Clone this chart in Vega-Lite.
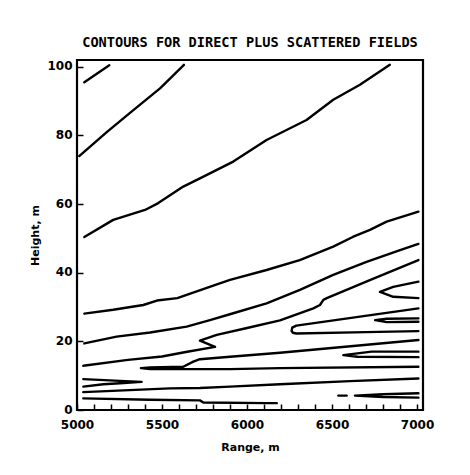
{
  "$schema": "https://vega.github.io/schema/vega-lite/v6.json",
  "width": 346,
  "height": 350,
  "autosize": {"type": "none"},
  "padding": {"left": 77, "top": 60, "right": 47, "bottom": 65},
  "background": "white",
  "title": {
    "text": "CONTOURS FOR DIRECT PLUS SCATTERED FIELDS",
    "font": "DejaVu Sans Mono",
    "fontSize": 13.6,
    "fontWeight": "bold",
    "color": "black",
    "anchor": "middle",
    "offset": 10
  },
  "config": {
    "view": {"stroke": "black", "strokeWidth": 2.2},
    "axis": {
      "labelFont": "DejaVu Sans",
      "labelFontWeight": "bold",
      "labelFontSize": 12,
      "labelColor": "black",
      "titleFont": "DejaVu Sans",
      "titleFontWeight": "bold",
      "titleFontSize": 11,
      "titleColor": "black",
      "grid": false,
      "tickColor": "black",
      "domainColor": "black"
    }
  },
  "data": {
    "values": [
      {"id": "A", "o": 1, "x": 5043, "y": 95.5},
      {"id": "A", "o": 2, "x": 5190, "y": 100.5},
      {"id": "B", "o": 1, "x": 5013, "y": 74},
      {"id": "B", "o": 2, "x": 5175, "y": 81},
      {"id": "B", "o": 3, "x": 5310, "y": 86.5},
      {"id": "B", "o": 4, "x": 5490, "y": 93.8},
      {"id": "B", "o": 5, "x": 5629, "y": 100.6},
      {"id": "C", "o": 1, "x": 5043, "y": 50.4},
      {"id": "C", "o": 2, "x": 5213, "y": 55.4},
      {"id": "C", "o": 3, "x": 5400, "y": 58.3},
      {"id": "C", "o": 4, "x": 5478, "y": 60.3},
      {"id": "C", "o": 5, "x": 5625, "y": 65.1},
      {"id": "C", "o": 6, "x": 5723, "y": 67.5},
      {"id": "C", "o": 7, "x": 5919, "y": 72.4},
      {"id": "C", "o": 8, "x": 6115, "y": 78.7},
      {"id": "C", "o": 9, "x": 6350, "y": 84.5},
      {"id": "C", "o": 10, "x": 6507, "y": 90.4},
      {"id": "C", "o": 11, "x": 6664, "y": 94.8},
      {"id": "C", "o": 12, "x": 6840, "y": 100.6},
      {"id": "D", "o": 1, "x": 5043, "y": 28.1},
      {"id": "D", "o": 2, "x": 5213, "y": 29.2},
      {"id": "D", "o": 3, "x": 5390, "y": 30.6},
      {"id": "D", "o": 4, "x": 5470, "y": 31.9},
      {"id": "D", "o": 5, "x": 5590, "y": 32.6},
      {"id": "D", "o": 6, "x": 5700, "y": 34.5},
      {"id": "D", "o": 7, "x": 5810, "y": 36.4},
      {"id": "D", "o": 8, "x": 5900, "y": 37.9},
      {"id": "D", "o": 9, "x": 6115, "y": 40.8},
      {"id": "D", "o": 10, "x": 6310, "y": 43.7},
      {"id": "D", "o": 11, "x": 6507, "y": 47.6},
      {"id": "D", "o": 12, "x": 6625, "y": 50.5},
      {"id": "D", "o": 13, "x": 6723, "y": 52.5},
      {"id": "D", "o": 14, "x": 6821, "y": 54.9},
      {"id": "D", "o": 15, "x": 7008, "y": 57.8},
      {"id": "E", "o": 1, "x": 5043, "y": 19.4},
      {"id": "E", "o": 2, "x": 5233, "y": 21.4},
      {"id": "E", "o": 3, "x": 5430, "y": 22.6},
      {"id": "E", "o": 4, "x": 5645, "y": 24.3},
      {"id": "E", "o": 5, "x": 5782, "y": 26.2},
      {"id": "E", "o": 6, "x": 5919, "y": 28.2},
      {"id": "E", "o": 7, "x": 6115, "y": 31.1},
      {"id": "E", "o": 8, "x": 6311, "y": 35.0},
      {"id": "E", "o": 9, "x": 6507, "y": 39.4},
      {"id": "E", "o": 10, "x": 6703, "y": 43.2},
      {"id": "E", "o": 11, "x": 6900, "y": 46.6},
      {"id": "E", "o": 12, "x": 7008, "y": 48.4},
      {"id": "F", "o": 1, "x": 5037, "y": 12.9},
      {"id": "F", "o": 2, "x": 5300, "y": 14.6},
      {"id": "F", "o": 3, "x": 5500, "y": 15.6},
      {"id": "F", "o": 4, "x": 5640, "y": 16.9},
      {"id": "F", "o": 5, "x": 5812, "y": 18.4},
      {"id": "F", "o": 6, "x": 5723, "y": 20.2},
      {"id": "F", "o": 7, "x": 5822, "y": 21.9},
      {"id": "F", "o": 8, "x": 6000, "y": 23.9},
      {"id": "F", "o": 9, "x": 6194, "y": 26.1},
      {"id": "F", "o": 10, "x": 6390, "y": 29.6},
      {"id": "F", "o": 11, "x": 6429, "y": 30.6},
      {"id": "F", "o": 12, "x": 6449, "y": 32.1},
      {"id": "F", "o": 13, "x": 6469, "y": 32.6},
      {"id": "F", "o": 14, "x": 6740, "y": 38.2},
      {"id": "F", "o": 15, "x": 7008, "y": 43.7},
      {"id": "L1", "o": 1, "x": 5037, "y": 9.0},
      {"id": "L1", "o": 2, "x": 5253, "y": 8.5},
      {"id": "L1", "o": 3, "x": 5380, "y": 8.2},
      {"id": "L1", "o": 4, "x": 5253, "y": 7.8},
      {"id": "L1", "o": 5, "x": 5155, "y": 7.5},
      {"id": "L1", "o": 6, "x": 5037, "y": 6.8},
      {"id": "L2", "o": 1, "x": 7008, "y": 20.4},
      {"id": "L2", "o": 2, "x": 6194, "y": 16.7},
      {"id": "L2", "o": 3, "x": 5900, "y": 15.5},
      {"id": "L2", "o": 4, "x": 5723, "y": 14.8},
      {"id": "L2", "o": 5, "x": 5684, "y": 14.1},
      {"id": "L2", "o": 6, "x": 5625, "y": 12.6},
      {"id": "L2", "o": 7, "x": 5430, "y": 12.4},
      {"id": "L2", "o": 8, "x": 5376, "y": 12.2},
      {"id": "L2", "o": 9, "x": 5430, "y": 11.9},
      {"id": "L2", "o": 10, "x": 5900, "y": 11.9},
      {"id": "L2", "o": 11, "x": 6194, "y": 12.2},
      {"id": "L2", "o": 12, "x": 7008, "y": 12.6},
      {"id": "G", "o": 1, "x": 5037, "y": 5.2},
      {"id": "G", "o": 2, "x": 5547, "y": 6.3},
      {"id": "G", "o": 3, "x": 5723, "y": 6.4},
      {"id": "G", "o": 4, "x": 5900, "y": 6.8},
      {"id": "G", "o": 5, "x": 6194, "y": 7.5},
      {"id": "G", "o": 6, "x": 6606, "y": 8.4},
      {"id": "G", "o": 7, "x": 7008, "y": 9.2},
      {"id": "H", "o": 1, "x": 5037, "y": 3.4},
      {"id": "H", "o": 2, "x": 5429, "y": 3.0},
      {"id": "H", "o": 3, "x": 5723, "y": 2.8},
      {"id": "H", "o": 4, "x": 5743, "y": 2.2},
      {"id": "H", "o": 5, "x": 6115, "y": 2.0},
      {"id": "H", "o": 6, "x": 6175, "y": 2.0},
      {"id": "R1", "o": 1, "x": 7008, "y": 37.4},
      {"id": "R1", "o": 2, "x": 6860, "y": 35.9},
      {"id": "R1", "o": 3, "x": 6782, "y": 34.4},
      {"id": "R1", "o": 4, "x": 6860, "y": 33.0},
      {"id": "R1", "o": 5, "x": 7008, "y": 32.6},
      {"id": "R2", "o": 1, "x": 7008, "y": 26.7},
      {"id": "R2", "o": 2, "x": 6822, "y": 26.6},
      {"id": "R2", "o": 3, "x": 6753, "y": 26.2},
      {"id": "R2", "o": 4, "x": 6822, "y": 25.6},
      {"id": "R2", "o": 5, "x": 7008, "y": 25.7},
      {"id": "R3", "o": 1, "x": 7008, "y": 29.6},
      {"id": "R3", "o": 2, "x": 6290, "y": 24.6},
      {"id": "R3", "o": 3, "x": 6266, "y": 24.0},
      {"id": "R3", "o": 4, "x": 6262, "y": 23.1},
      {"id": "R3", "o": 5, "x": 6270, "y": 22.5},
      {"id": "R3", "o": 6, "x": 6290, "y": 22.3},
      {"id": "R3", "o": 7, "x": 6700, "y": 22.7},
      {"id": "R3", "o": 8, "x": 7008, "y": 23.0},
      {"id": "R4", "o": 1, "x": 7008, "y": 17.0},
      {"id": "R4", "o": 2, "x": 6733, "y": 17.0},
      {"id": "R4", "o": 3, "x": 6566, "y": 16.0},
      {"id": "R4", "o": 4, "x": 6650, "y": 15.5},
      {"id": "R4", "o": 5, "x": 7008, "y": 15.4},
      {"id": "R5", "o": 1, "x": 6537, "y": 4.2},
      {"id": "R5", "o": 2, "x": 6586, "y": 4.2},
      {"id": "R6", "o": 1, "x": 7008, "y": 4.9},
      {"id": "R6", "o": 2, "x": 6800, "y": 4.6},
      {"id": "R6", "o": 3, "x": 6635, "y": 4.2},
      {"id": "R6", "o": 4, "x": 6800, "y": 3.8},
      {"id": "R6", "o": 5, "x": 7008, "y": 3.6}
    ]
  },
  "mark": {"type": "line", "color": "black", "strokeWidth": 2.4, "strokeJoin": "round", "strokeCap": "round", "clip": true},
  "encoding": {
    "x": {
      "field": "x",
      "type": "quantitative",
      "scale": {"domain": [5000, 7035], "nice": false, "zero": false},
      "axis": {
        "title": "Range, m",
        "titleColor": "black",
        "values": [5000, 5100, 5200, 5300, 5400, 5500, 5600, 5700, 5800, 5900, 6000, 6100, 6200, 6300, 6400, 6500, 6600, 6700, 6800, 6900, 7000],
        "labelExpr": "datum.value % 500 === 0 ? datum.value : ''",
        "labelFlush": false,
        "labelOverlap": false,
        "offset": -6,
        "tickSize": 6,
        "tickWidth": 1.5,
        "labelPadding": 9,
        "domain": false,
        "titlePadding": 11
      }
    },
    "y": {
      "field": "y",
      "type": "quantitative",
      "scale": {"domain": [0, 102], "nice": false},
      "axis": {
        "title": "Height, m",
        "titleColor": "black",
        "values": [0, 20, 40, 60, 80, 100],
        "labelFlush": false,
        "labelOffset": -1,
        "offset": -6,
        "tickSize": 6,
        "tickWidth": 1.5,
        "labelPadding": 5,
        "domain": false,
        "titlePadding": 6
      }
    },
    "detail": {"field": "id"},
    "order": {"field": "o"}
  }
}
